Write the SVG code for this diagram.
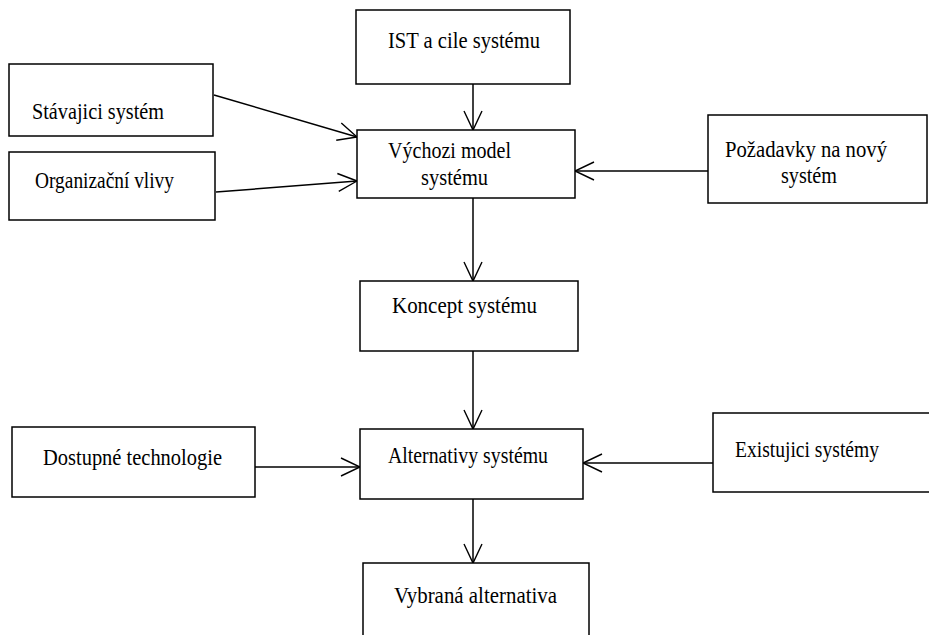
<svg xmlns="http://www.w3.org/2000/svg" width="929" height="635" viewBox="0 0 929 635">
  <style>
    .box { fill: #ffffff; stroke: #000000; stroke-width: 1.5; }
    .lbl { font-family: "Liberation Serif", "Times New Roman", serif; font-size: 23px; fill: #000000; }
    .edge { fill: none; stroke: #000000; stroke-width: 1.5; marker-end: url(#open); }
  </style>
  <defs>
    <marker id="open" markerUnits="userSpaceOnUse" markerWidth="26" markerHeight="24" viewBox="-23 -12 26 24" refX="0" refY="0" orient="auto">
      <path d="M-19,-9 L0,0 L-19,9" fill="none" stroke="#000000" stroke-width="1.4"/>
    </marker>
  </defs>
  <rect width="929" height="635" fill="#ffffff"/>

  <g id="connectors">
    <line class="edge" x1="473" y1="84" x2="473" y2="130"/>
    <line class="edge" x1="214" y1="95" x2="357" y2="137"/>
    <line class="edge" x1="216" y1="192" x2="357" y2="181"/>
    <line class="edge" x1="708" y1="171" x2="575" y2="171"/>
    <line class="edge" x1="473" y1="198" x2="473" y2="281"/>
    <line class="edge" x1="473" y1="351" x2="473" y2="429"/>
    <line class="edge" x1="255" y1="467" x2="360" y2="467"/>
    <line class="edge" x1="713" y1="463" x2="583" y2="463"/>
    <line class="edge" x1="473" y1="499" x2="473" y2="563"/>
  </g>

  <g id="ist-cile">
    <rect class="box" x="356" y="10" width="214" height="74"/>
    <text class="lbl" x="388" y="48" textLength="152" lengthAdjust="spacingAndGlyphs">IST a cile systému</text>
  </g>
  <g id="stavajici-system">
    <rect class="box" x="9" y="64" width="204" height="72"/>
    <text class="lbl" x="32" y="119" textLength="132" lengthAdjust="spacingAndGlyphs">Stávajici systém</text>
  </g>
  <g id="organizacni-vlivy">
    <rect class="box" x="9" y="152" width="206" height="68"/>
    <text class="lbl" x="35" y="188" textLength="139" lengthAdjust="spacingAndGlyphs">Organizační vlivy</text>
  </g>
  <g id="vychozi-model">
    <rect class="box" x="357" y="130" width="218" height="68"/>
    <text class="lbl" x="388" y="158" textLength="123" lengthAdjust="spacingAndGlyphs">Výchozi model</text>
    <text class="lbl" x="421" y="185" textLength="67" lengthAdjust="spacingAndGlyphs">systému</text>
  </g>
  <g id="pozadavky">
    <rect class="box" x="708" y="115" width="219" height="88"/>
    <text class="lbl" x="725" y="157" textLength="162" lengthAdjust="spacingAndGlyphs">Požadavky na nový</text>
    <text class="lbl" x="781" y="183" textLength="56" lengthAdjust="spacingAndGlyphs">systém</text>
  </g>
  <g id="koncept">
    <rect class="box" x="360" y="281" width="218" height="70"/>
    <text class="lbl" x="392" y="313" textLength="145" lengthAdjust="spacingAndGlyphs">Koncept systému</text>
  </g>
  <g id="alternativy">
    <rect class="box" x="360" y="429" width="223" height="70"/>
    <text class="lbl" x="388" y="463" textLength="160" lengthAdjust="spacingAndGlyphs">Alternativy systému</text>
  </g>
  <g id="dostupne-technologie">
    <rect class="box" x="12" y="427" width="243" height="70"/>
    <text class="lbl" x="43" y="465" textLength="179" lengthAdjust="spacingAndGlyphs">Dostupné technologie</text>
  </g>
  <g id="existujici-systemy">
    <rect class="box" x="713" y="413" width="225" height="79"/>
    <text class="lbl" x="735" y="457" textLength="144" lengthAdjust="spacingAndGlyphs">Existujici systémy</text>
  </g>
  <g id="vybrana-alternativa">
    <rect class="box" x="363" y="563" width="226" height="80"/>
    <text class="lbl" x="394" y="603" textLength="163" lengthAdjust="spacingAndGlyphs">Vybraná alternativa</text>
  </g>
</svg>
